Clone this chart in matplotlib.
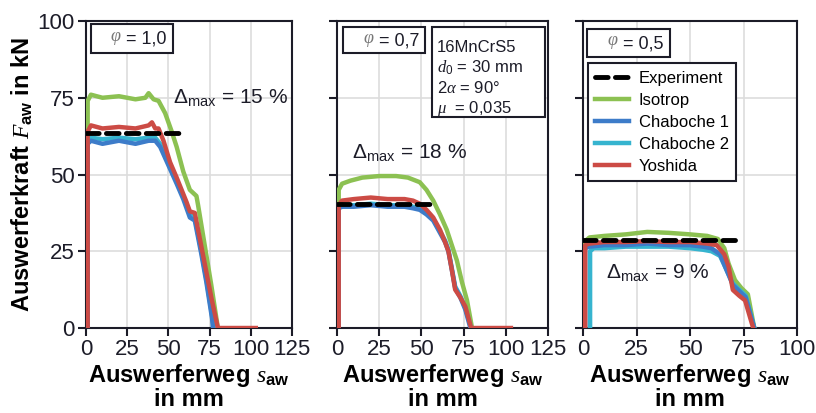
import matplotlib
matplotlib.use("Agg")
from matplotlib import pyplot as plt
from matplotlib.patches import Rectangle

plt.rcParams['font.family'] = ['Liberation Sans', 'DejaVu Sans']
plt.rcParams['mathtext.fontset'] = 'custom'
plt.rcParams['mathtext.it'] = 'Liberation Serif:italic'
plt.rcParams['mathtext.rm'] = 'Liberation Sans'
plt.rcParams['mathtext.bf'] = 'Liberation Sans:bold'

# --- data (x in mm, y in kN) ---
phi_labels = ['1,0', '0,7', '0,5']
delta_labels = ['15 %', '18 %', '9 %']
x_limits = [125, 125, 100]
x_ticks_1 = [0, 25, 50, 75, 100, 125]
x_ticks_3 = [0, 25, 50, 75, 100]
y_ticks = [0, 25, 50, 75, 100]

# phi = 1,0
exp1_x = [0, 57]
exp1_y = [63.5, 63.5]
iso1_x = [1, 1, 3, 10, 20, 30, 36, 38, 41, 44, 48, 52, 55, 59, 63, 67, 68, 72, 76, 80]
iso1_y = [0, 74, 76, 75, 75.5, 74.5, 75, 76.5, 74.5, 74, 70, 64, 59, 51, 45, 43, 40, 27, 14, 0]
cha1_1_x = [1, 1, 3, 10, 20, 30, 38, 42, 45, 50, 55, 59, 63, 66, 70, 73, 76.5, 77]
cha1_1_y = [0, 60, 61, 60, 61, 60, 61, 61, 59, 53, 47, 42, 36, 35, 24, 15, 3, 0]
cha2_1_x = [1, 1, 3, 10, 20, 30, 38, 42, 45, 50, 55, 59, 63, 66, 70, 73, 76.5, 77.5]
cha2_1_y = [0, 61, 62, 61.5, 62, 61.5, 62, 62, 60, 54, 48, 43, 37, 36, 25, 16, 4, 0]
yos1_x = [1, 1, 3, 10, 20, 30, 38, 40, 42, 44, 47, 51, 55, 58, 61, 63, 66, 68, 72, 76, 80, 103]
yos1_y = [0, 64, 66, 65, 65.5, 65, 66, 67, 65, 65, 61, 54, 49, 45, 41, 38, 37.5, 32, 21, 10, 0, 0]

# phi = 0,7
exp2_x = [0, 56]
exp2_y = [40.5, 40.5]
iso2_x = [1, 1, 3, 8, 15, 25, 35, 42, 49, 53, 57, 61, 65, 68, 71, 74, 77, 80]
iso2_y = [0, 45, 47, 48, 49, 49.5, 49.5, 49, 47.5, 45, 41.5, 37, 32, 27, 22, 15, 9, 0]
cha1_2_x = [1, 1, 3, 10, 20, 30, 40, 45, 49, 53, 57, 61, 64, 66, 68, 70, 73, 76, 79]
cha1_2_y = [0, 39, 39.5, 39.5, 40, 39.5, 39.5, 39, 38.5, 37, 35, 31, 28, 25, 19, 13, 10, 6, 0]
cha2_2_x = [1, 1, 3, 10, 20, 30, 40, 45, 49, 53, 57, 61, 64, 66, 68, 70, 73, 76, 79.5]
cha2_2_y = [0, 39.5, 40, 40, 40.5, 40, 40, 39.5, 39, 37.5, 35.5, 31.5, 28.5, 25.5, 19.5, 13.5, 10.5, 6.5, 0]
yos2_x = [1, 1, 3, 10, 20, 30, 40, 45, 49, 53, 57, 61, 64, 66, 68, 70, 73, 76, 79.5, 103]
yos2_y = [0, 40, 41.5, 42, 42.5, 42, 42, 41.5, 40.5, 38.5, 36, 32, 28, 25, 19, 12.5, 10, 7, 0, 0]

# phi = 0,5
exp3_x = [0, 71]
exp3_y = [28.7, 28.7]
iso3_x = [0.5, 0.5, 3, 10, 20, 30, 40, 50, 58, 63, 66, 68, 71, 74, 77, 80]
iso3_y = [0, 28, 29.5, 30, 30.5, 31.3, 31, 30.5, 30, 29, 26, 21, 15.6, 13, 11, 0]
cha1_3_x = [1, 1, 3, 10, 20, 30, 40, 50, 56, 60, 64, 67, 70, 73, 76, 80]
cha1_3_y = [0, 26, 26.5, 27, 27, 27.5, 27, 27, 26.5, 26, 24, 19, 14, 12, 10, 0]
cha2_3_x = [3.3, 3.3, 5, 10, 20, 30, 40, 50, 56, 60, 64, 67, 70, 73, 76, 80]
cha2_3_y = [0, 25, 26, 26, 26.5, 26.5, 26.5, 26, 25.5, 25, 23.5, 19, 14.5, 12.5, 10.5, 0]
yos3_x = [1, 1, 3, 10, 20, 30, 40, 50, 58, 62.5, 66, 68, 70, 73, 75.7, 79.5]
yos3_y = [0, 27, 27.5, 28, 28, 28.3, 28, 28, 27.5, 27, 24, 20, 12.4, 10.5, 9, 0]

panels = [
    (exp1_x, exp1_y, iso1_x, iso1_y, cha1_1_x, cha1_1_y, cha2_1_x, cha2_1_y, yos1_x, yos1_y),
    (exp2_x, exp2_y, iso2_x, iso2_y, cha1_2_x, cha1_2_y, cha2_2_x, cha2_2_y, yos2_x, yos2_y),
    (exp3_x, exp3_y, iso3_x, iso3_y, cha1_3_x, cha1_3_y, cha2_3_x, cha2_3_y, yos3_x, yos3_y),
]

GREEN = '#8cc152'
BLUE = '#3d7cc9'
CYAN = '#36b4cf'
RED = '#cc4b45'
DARK = '#1c1c28'
LW = 3.2

fig = plt.figure(figsize=(8.16, 4.13), dpi=100)
ax_pos = [[0.1054, 0.2058, 0.2525, 0.7433],
          [0.4130, 0.2058, 0.2586, 0.7433],
          [0.7145, 0.2058, 0.2623, 0.7433]]

phi_box = [(0.024, 0.896, 0.398, 0.094), (0.028, 0.896, 0.389, 0.084), (0.019, 0.883, 0.388, 0.091)]
delta_pos = [(0.42, 0.752), (0.071, 0.573), (0.107, 0.182)]

for i, (ex, ey, ix, iy, c1x, c1y, c2x, c2y, yx, yy) in enumerate(panels):
    ax = fig.add_axes(ax_pos[i])
    ax.plot(ix, iy, color=GREEN, lw=LW, label='Isotrop', zorder=3)
    ax.plot(c2x, c2y, color=CYAN, lw=LW, label='Chaboche 2', zorder=3)
    ax.plot(c1x, c1y, color=BLUE, lw=LW, label='Chaboche 1', zorder=3)
    ax.plot(yx, yy, color=RED, lw=LW, label='Yoshida', zorder=4)
    ax.plot(ex, ey, color='black', lw=3.5, dashes=(2.6, 1.5), dash_capstyle='round',
            label='Experiment', zorder=5)

    ax.set_xlim(0, x_limits[i])
    ax.set_ylim(0, 100)
    ax.set_xticks(x_ticks_1 if x_limits[i] == 125 else x_ticks_3)
    ax.set_yticks(y_ticks)
    ax.grid(True, color='#dddddd', lw=1.2)
    ax.set_axisbelow(True)
    for s in ax.spines.values():
        s.set_color(DARK)
        s.set_linewidth(1.5)
    ax.tick_params(direction='out', length=6, width=1.5, labelsize=16, colors=DARK, pad=2)
    if i == 0:
        ax.set_ylabel(r'Auswerferkraft $F_{\mathbf{aw}}$ in kN', fontsize=17,
                      fontweight='bold', labelpad=2)
    else:
        ax.tick_params(axis='y', labelleft=False)
    ax.set_xlabel('Auswerferweg $s_{\\mathbf{aw}}$\nin mm', fontsize=17,
                  fontweight='bold', linespacing=0.95, labelpad=1)

    bx, by, bw, bh = phi_box[i]
    ax.add_patch(Rectangle((bx, by), bw, bh, transform=ax.transAxes, fill=True,
                           facecolor='white', edgecolor=DARK, lw=1.5, zorder=6))
    ax.text(bx + 0.12, by + bh / 2, r'$\varphi$', transform=ax.transAxes, color='#777777',
            fontsize=13, ha='center', va='center', zorder=7)
    ax.text(bx + 0.17, by + bh / 2 - 0.003, '= ' + phi_labels[i], transform=ax.transAxes,
            color=DARK, fontsize=13, ha='left', va='center', zorder=7)

    dx, dy = delta_pos[i]
    ax.text(dx, dy, r'$\Delta_{\mathrm{max}}$' + ' = ' + delta_labels[i], transform=ax.transAxes,
            fontsize=15, color=DARK, ha='left', va='center', zorder=7)

    if i == 1:
        ax.add_patch(Rectangle((0.45, 0.687), 0.536, 0.293, transform=ax.transAxes,
                               facecolor='white', edgecolor=DARK, lw=1.5, zorder=6))
        lines = ['16MnCrS5', r'$d_0$ = 30 mm', r'2$\alpha$ = 90°', r'$\mu$  = 0,035']
        for k, t in enumerate(lines):
            ax.text(0.474, 0.915 - k * 0.067, t, transform=ax.transAxes, fontsize=12,
                    color=DARK, ha='left', va='center', zorder=7)

    if i == 2:
        h, l = ax.get_legend_handles_labels()
        order = [4, 0, 2, 1, 3]
        leg = ax.legend([h[k] for k in order], [l[k] for k in order], loc='upper left',
                        bbox_to_anchor=(0.023, 0.863), borderaxespad=0, fancybox=False,
                        edgecolor=DARK, framealpha=1, fontsize=12, handlelength=2.0,
                        labelspacing=0.42, handletextpad=0.6, borderpad=0.45)
        leg.get_frame().set_linewidth(1.5)
        leg.set_zorder(8)

plt.savefig('out.png', dpi=100)
